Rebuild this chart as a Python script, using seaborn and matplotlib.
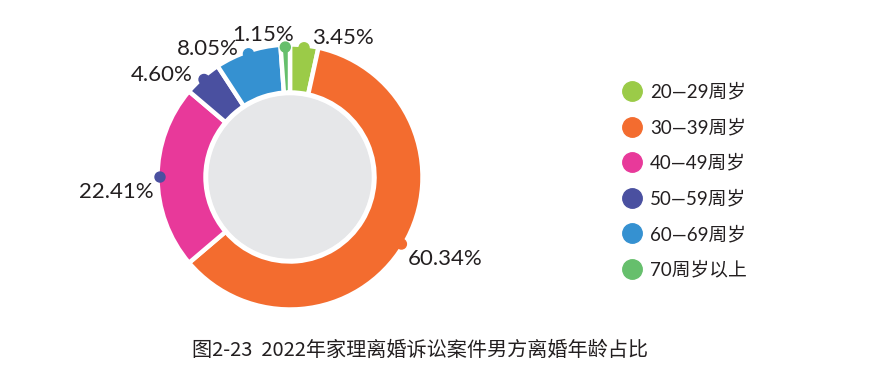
import numpy as np
import matplotlib
matplotlib.use("Agg")
from matplotlib import pyplot as plt
from matplotlib.lines import Line2D
from matplotlib.patches import Circle
import seaborn as sns

# 数据
age_groups = ['20—29周岁', '30—39周岁', '40—49周岁', '50—59周岁', '60—69周岁', '70周岁以上']
shares = [3.45, 60.34, 22.41, 4.60, 8.05, 1.15]
slice_colors = ['#9BCB48', '#F36C2F', '#E8399A', '#4A50A0', '#3591D1', '#66BF6C']
dot_colors = ['#9BCB48', '#F36C2F', '#4A50A0', '#4A50A0', '#3591D1', '#66BF6C']
title_text = '图2-23  2022年家理离婚诉讼案件男方离婚年龄占比'

sns.set_theme(style='white')
plt.rcParams['font.family'] = ['Lato', 'Noto Sans CJK SC', 'DejaVu Sans']

fig = plt.figure(figsize=(8.8, 3.86), dpi=100)
# 300x300 px axes, 100 px per unit
ax = fig.add_axes([140 / 880, 59 / 386, 300 / 880, 300 / 386])
ax.set_aspect('equal')
ax.axis('off')

R = 1.325
wedges, _ = ax.pie(shares, colors=slice_colors, startangle=90, counterclock=False,
                   radius=R, wedgeprops=dict(width=0.48, edgecolor='white', linewidth=3.2))
ax.add_patch(Circle((0, 0), 0.81, color='#E6E7E9', zorder=0))
ax.set_xlim(-1.5, 1.5)
ax.set_ylim(-1.5, 1.5)

# 标注点和百分比 (偏移单位: 像素)
offsets = [(8, 10), (6, -15), (-6, -15), (-11, 4), (-10, 5), (9, 12)]
aligns = ['left', 'left', 'right', 'right', 'right', 'right']
for w, val, dc, (dx, dy), ha in zip(wedges, shares, dot_colors, offsets, aligns):
    mid = np.deg2rad((w.theta1 + w.theta2) / 2)
    x, y = 1.30 * np.cos(mid), 1.30 * np.sin(mid)
    ax.add_patch(Circle((x, y), 0.05, color=dc, zorder=5))
    ax.annotate(f'{val:.2f}%', (x, y), xytext=(dx * 0.72, dy * 0.72), textcoords='offset points',
                ha=ha, va='center', fontsize=16, color='#231F20')

handles = [Line2D([], [], marker='o', linestyle='', markersize=14, color=c) for c in slice_colors]
fig.legend(handles, age_groups, loc='upper left', bbox_to_anchor=(604 / 880, 1 - 66 / 386),
           frameon=False, fontsize=13.5, labelspacing=0.95, handletextpad=0.35,
           handlelength=1.2, labelcolor='#231F20')

fig.text(420 / 880, 1 - 350 / 386, title_text, ha='center', va='center', fontsize=14.5,
         color='#231F20', family=['Noto Sans CJK SC', 'DejaVu Sans'])

fig.savefig('out.png', dpi=100)
